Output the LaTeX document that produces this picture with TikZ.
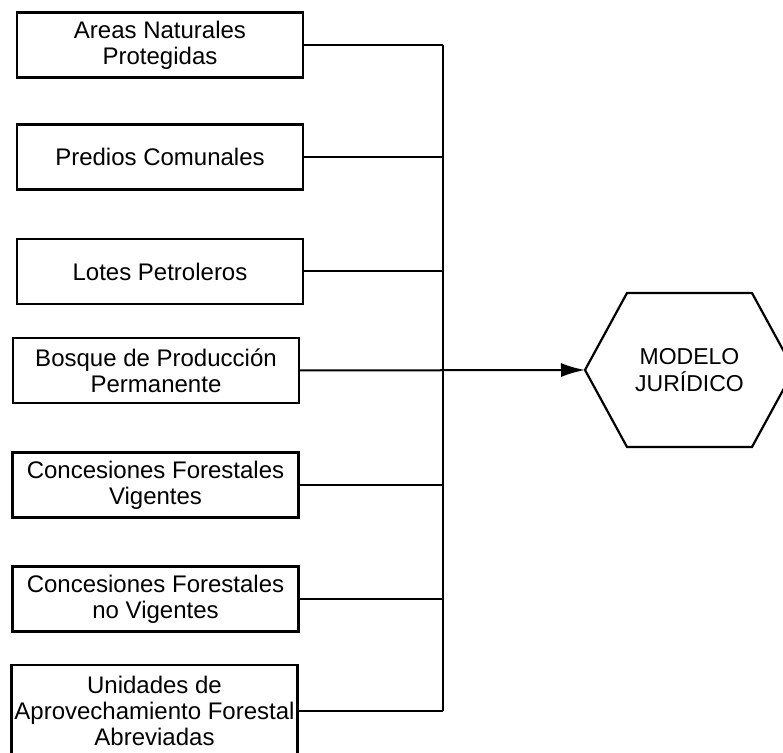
\documentclass[tikz,border=0pt]{standalone}
\usepackage{fontspec}
\setmainfont{Liberation Sans}
\usetikzlibrary{arrows.meta}

\begin{document}
\begin{tikzpicture}[x=0.5pt, y=-0.5pt, font=\fontsize{12}{13}\selectfont,
    box/.style={draw, line width=1.1pt, align=center, inner sep=0pt,
                minimum width=143pt, minimum height=32.5pt},
    link/.style={line width=1pt}]
  \useasboundingbox (0,0) rectangle (783,753);
  % left column
  \node[box] (anp) at (160,45)    {Areas Naturales\\Protegidas};
  \node[box] (pc)  at (160,157)   {Predios Comunales};
  \node[box] (lp)  at (160,271.5) {Lotes Petroleros};
  \node[box] (bpp) at (156,370.5) {Bosque de Producción\\Permanente};
  \node[box] (cfv) at (155.5,485) {Concesiones Forestales\\Vigentes};
  \node[box] (cfn) at (155.5,599) {Concesiones Forestales\\no Vigentes};
  \node[box, minimum height=46pt] (uaf) at (154.5,711)
    {Unidades de\\Aprovechamiento Forestal\\Abreviadas};
  % collector
  \coordinate (bus) at (443,0);
  \foreach \b in {anp,pc,lp,cfv,cfn,uaf}
    \draw[link] (\b.east) -- (\b.east -| bus);
  \draw[link] (anp.east -| bus) -- (uaf.east -| bus);
  % hexagon
  \draw[line width=1.1pt] (585,370) -- (627,293) -- (752,293) -- (794,370)
    -- (752,447) -- (627,447) -- cycle;
  \coordinate (mjw) at (585,370);
  \node[align=center, font=\fontsize{11.5}{13.5}\selectfont] (mj) at (689.5,370)
    {MODELO\\JURÍDICO};
  \draw[link, -{Latex[length=12pt, width=7pt]}] (bpp.east) -- (mjw);
\end{tikzpicture}
\end{document}
